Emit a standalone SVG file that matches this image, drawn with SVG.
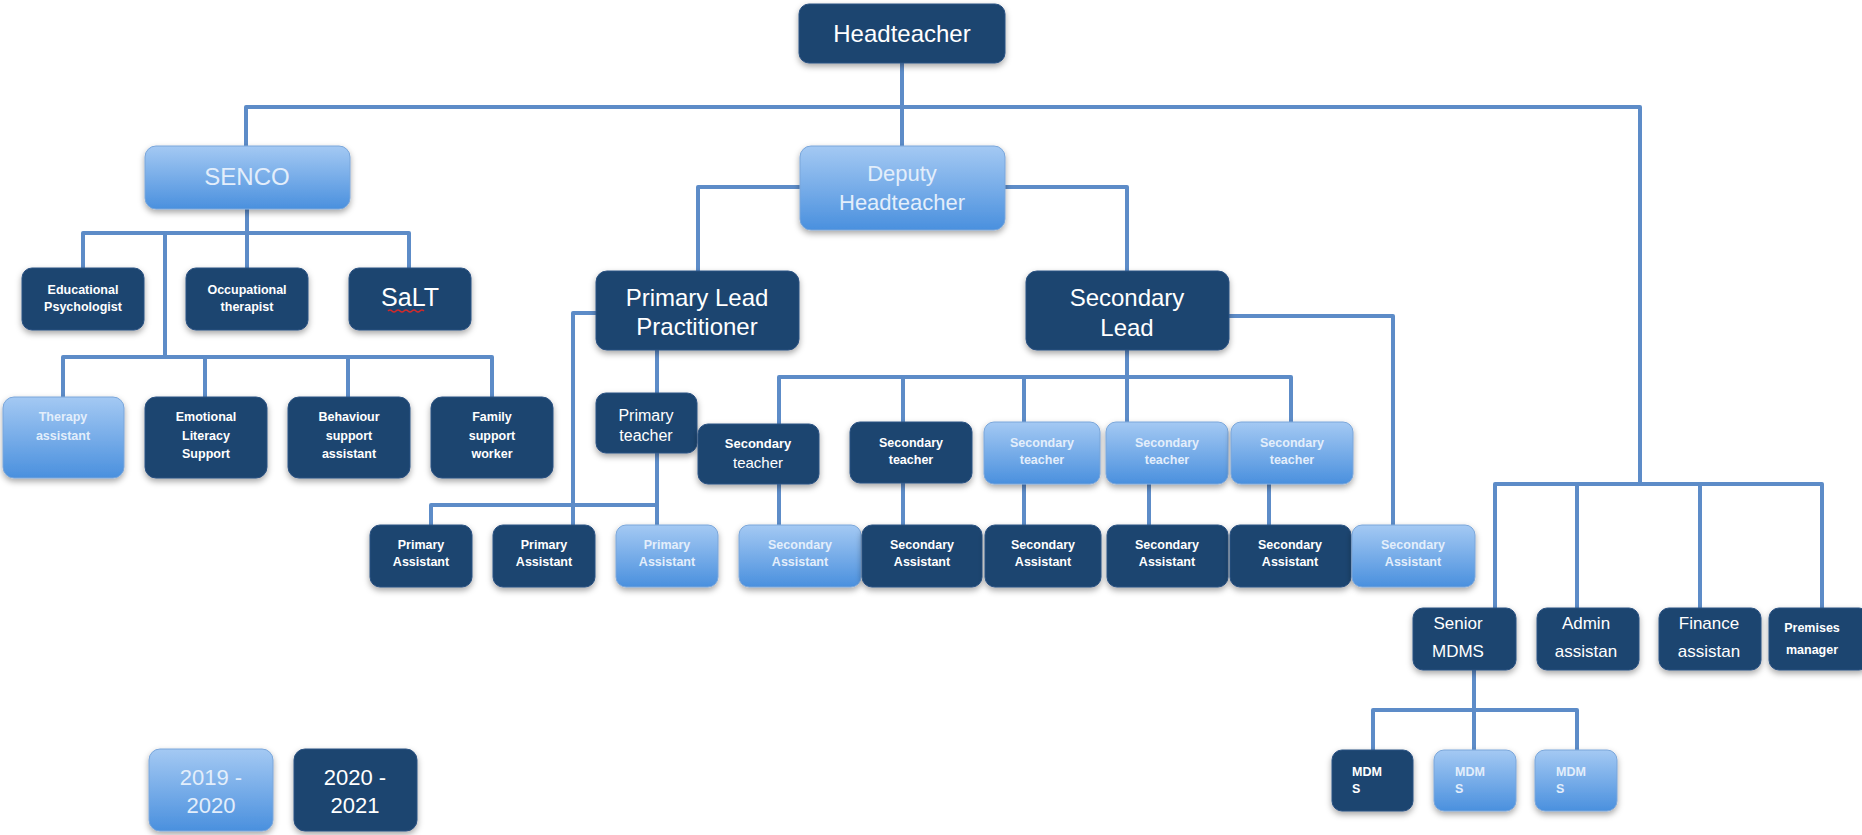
<svg xmlns="http://www.w3.org/2000/svg" width="1862" height="835" viewBox="0 0 1862 835">
<defs>
<linearGradient id="lg" x1="0" y1="0" x2="0" y2="1">
<stop offset="0" stop-color="#a4c9f3"/>
<stop offset="1" stop-color="#4a90de"/>
</linearGradient>
<filter id="sh" x="-20%" y="-20%" width="140%" height="150%">
<feDropShadow dx="0" dy="3" stdDeviation="3" flood-color="#000" flood-opacity="0.35"/>
</filter>
</defs>
<style>
.d{fill:#1e4470;stroke:#2a5282;stroke-width:1;filter:url(#sh)}
.l{fill:url(#lg);stroke:#7aa6da;stroke-width:1;filter:url(#sh)}
text{font-family:"Liberation Sans",Arial,sans-serif;fill:#ffffff;text-anchor:middle;dominant-baseline:central}
.lt{fill:#e3eefb}
.b{font-weight:bold;font-size:12.5px}
.m{font-size:17px}
.big{font-size:24px}
.left{text-anchor:start}
.c{fill:none;stroke:#5d8cc8;stroke-width:4;stroke-linejoin:round}
</style>
<rect width="1862" height="835" fill="#ffffff"/>
<g id="connectors" class="c">
<path d="M902 63V146"/>
<path d="M246 146V107H1640V484"/>
<path d="M800 187H698V271"/>
<path d="M1005 187H1127V271"/>
<path d="M247 208V233"/>
<path d="M83 268V233H409V268"/>
<path d="M247 233V268"/>
<path d="M165 233V357"/>
<path d="M63 397V357H492V397"/>
<path d="M205 357V397"/>
<path d="M348 357V397"/>
<path d="M657 350V393"/>
<path d="M657 453V525"/>
<path d="M596 313H573V525"/>
<path d="M431 525V505H657"/>
<path d="M1127 350V423"/>
<path d="M779 424V377H1291V423"/>
<path d="M903 377V422"/>
<path d="M1024 377V422"/>
<path d="M779 483V525"/>
<path d="M903 482V525"/>
<path d="M1024 482V525"/>
<path d="M1149 484V525"/>
<path d="M1269 484V525"/>
<path d="M1229 316H1393V525"/>
<path d="M1495 608V484H1822V608"/>
<path d="M1577 484V608"/>
<path d="M1700 484V608"/>
<path d="M1474 670V710"/>
<path d="M1373 750V710H1577V750"/>
<path d="M1474 710V750"/>
</g>
<g id="headteacher"><rect class="d" x="799" y="4" width="206" height="59" rx="10"/><text class="big" x="902" y="33">Headteacher</text></g>
<g id="senco"><rect class="l" x="145" y="146" width="205" height="63" rx="11"/><text class="big lt" x="247" y="176">SENCO</text></g>
<g id="deputy"><rect class="l" x="800" y="146" width="205" height="84" rx="11"/><text class="lt" font-size="22" x="902" y="173">Deputy</text><text class="lt" font-size="22" x="902" y="202">Headteacher</text></g>
<g id="edpsych"><rect class="d" x="22" y="268" width="122" height="62" rx="10"/><text class="b" x="83" y="290">Educational</text><text class="b" x="83" y="307">Psychologist</text></g>
<g id="occtherapist"><rect class="d" x="186" y="268" width="122" height="62" rx="10"/><text class="b" x="247" y="290">Occupational</text><text class="b" x="247" y="307">therapist</text></g>
<g id="salt"><rect class="d" x="349" y="268" width="122" height="62" rx="10"/><text font-size="25" x="410" y="297">SaLT</text><path d="M388 311q2-2 4 0t4 0t4 0t4 0t4 0t4 0t4 0t4 0t4 0" fill="none" stroke="#d42a2a" stroke-width="1.5"/></g>
<g id="therapy"><rect class="l" x="3" y="397" width="121" height="81" rx="11"/><text class="b lt" x="63" y="417">Therapy</text><text class="b lt" x="63" y="436">assistant</text></g>
<g id="emotional"><rect class="d" x="145" y="397" width="122" height="81" rx="11"/><text class="b" x="206" y="417">Emotional</text><text class="b" x="206" y="436">Literacy</text><text class="b" x="206" y="454">Support</text></g>
<g id="behaviour"><rect class="d" x="288" y="397" width="122" height="81" rx="11"/><text class="b" x="349" y="417">Behaviour</text><text class="b" x="349" y="436">support</text><text class="b" x="349" y="454">assistant</text></g>
<g id="family"><rect class="d" x="431" y="397" width="122" height="81" rx="11"/><text class="b" x="492" y="417">Family</text><text class="b" x="492" y="436">support</text><text class="b" x="492" y="454">worker</text></g>
<g id="primarylead"><rect class="d" x="596" y="271" width="203" height="79" rx="11"/><text class="big" x="697" y="297">Primary Lead</text><text class="big" x="697" y="326">Practitioner</text></g>
<g id="secondarylead"><rect class="d" x="1026" y="271" width="203" height="79" rx="11"/><text class="big" x="1127" y="297">Secondary</text><text class="big" x="1127" y="327">Lead</text></g>
<g id="primaryteacher"><rect class="d" x="596" y="393" width="101" height="60" rx="10"/><text font-size="16" x="646" y="415">Primary</text><text font-size="16" x="646" y="435">teacher</text></g>
<g id="secteacher1"><rect class="d" x="698" y="424" width="121" height="60" rx="10"/><text font-weight="bold" font-size="13" x="758" y="443">Secondary</text><text font-size="15" x="758" y="462">teacher</text></g>
<g id="secteacher2"><rect class="d" x="850" y="422" width="122" height="61" rx="10"/><text class="b" x="911" y="443">Secondary</text><text class="b" x="911" y="460">teacher</text></g>
<g id="secteacher3"><rect class="l" x="984" y="422" width="116" height="62" rx="10"/><text class="b lt" x="1042" y="443">Secondary</text><text class="b lt" x="1042" y="460">teacher</text></g>
<g id="secteacher4"><rect class="l" x="1106" y="422" width="122" height="62" rx="10"/><text class="b lt" x="1167" y="443">Secondary</text><text class="b lt" x="1167" y="460">teacher</text></g>
<g id="secteacher5"><rect class="l" x="1231" y="422" width="122" height="62" rx="10"/><text class="b lt" x="1292" y="443">Secondary</text><text class="b lt" x="1292" y="460">teacher</text></g>
<g id="primaryasst1"><rect class="d" x="370" y="525" width="102" height="62" rx="10"/><text class="b" x="421" y="545">Primary</text><text class="b" x="421" y="562">Assistant</text></g>
<g id="primaryasst2"><rect class="d" x="493" y="525" width="102" height="62" rx="10"/><text class="b" x="544" y="545">Primary</text><text class="b" x="544" y="562">Assistant</text></g>
<g id="primaryasst3"><rect class="l" x="616" y="525" width="102" height="62" rx="10"/><text class="b lt" x="667" y="545">Primary</text><text class="b lt" x="667" y="562">Assistant</text></g>
<g id="secasst1"><rect class="l" x="739" y="525" width="122" height="62" rx="10"/><text class="b lt" x="800" y="545">Secondary</text><text class="b lt" x="800" y="562">Assistant</text></g>
<g id="secasst2"><rect class="d" x="862" y="525" width="120" height="62" rx="10"/><text class="b" x="922" y="545">Secondary</text><text class="b" x="922" y="562">Assistant</text></g>
<g id="secasst3"><rect class="d" x="985" y="525" width="116" height="62" rx="10"/><text class="b" x="1043" y="545">Secondary</text><text class="b" x="1043" y="562">Assistant</text></g>
<g id="secasst4"><rect class="d" x="1107" y="525" width="121" height="62" rx="10"/><text class="b" x="1167" y="545">Secondary</text><text class="b" x="1167" y="562">Assistant</text></g>
<g id="secasst5"><rect class="d" x="1230" y="525" width="121" height="62" rx="10"/><text class="b" x="1290" y="545">Secondary</text><text class="b" x="1290" y="562">Assistant</text></g>
<g id="secasst6"><rect class="l" x="1352" y="525" width="123" height="62" rx="10"/><text class="b lt" x="1413" y="545">Secondary</text><text class="b lt" x="1413" y="562">Assistant</text></g>
<g id="seniormdms"><rect class="d" x="1413" y="608" width="103" height="62" rx="10"/><text class="m" x="1458" y="623">Senior</text><text class="m" x="1458" y="651">MDMS</text></g>
<g id="admin"><rect class="d" x="1537" y="608" width="102" height="62" rx="10"/><text class="m" x="1586" y="623">Admin</text><text class="m" x="1586" y="651">assistan</text></g>
<g id="finance"><rect class="d" x="1659" y="608" width="102" height="62" rx="10"/><text class="m" x="1709" y="623">Finance</text><text class="m" x="1709" y="651">assistan</text></g>
<g id="premises"><rect class="d" x="1769" y="608" width="100" height="62" rx="10"/><text class="b" font-size="12" x="1812" y="628">Premises</text><text class="b" font-size="12" x="1812" y="650">manager</text></g>
<g id="mdms1"><rect class="d" x="1332" y="750" width="81" height="61" rx="10"/><text class="b left" x="1352" y="772">MDM</text><text class="b left" x="1352" y="789">S</text></g>
<g id="mdms2"><rect class="l" x="1434" y="750" width="82" height="61" rx="10"/><text class="b lt left" x="1455" y="772">MDM</text><text class="b lt left" x="1455" y="789">S</text></g>
<g id="mdms3"><rect class="l" x="1535" y="750" width="82" height="61" rx="10"/><text class="b lt left" x="1556" y="772">MDM</text><text class="b lt left" x="1556" y="789">S</text></g>
<g id="year2019"><rect class="l" x="149" y="749" width="124" height="82" rx="11"/><text font-size="22" class="lt" x="211" y="777">2019 -</text><text font-size="22" class="lt" x="211" y="805">2020</text></g>
<g id="year2020"><rect class="d" x="294" y="749" width="123" height="82" rx="11"/><text font-size="22" x="355" y="777">2020 -</text><text font-size="22" x="355" y="805">2021</text></g>
</svg>
